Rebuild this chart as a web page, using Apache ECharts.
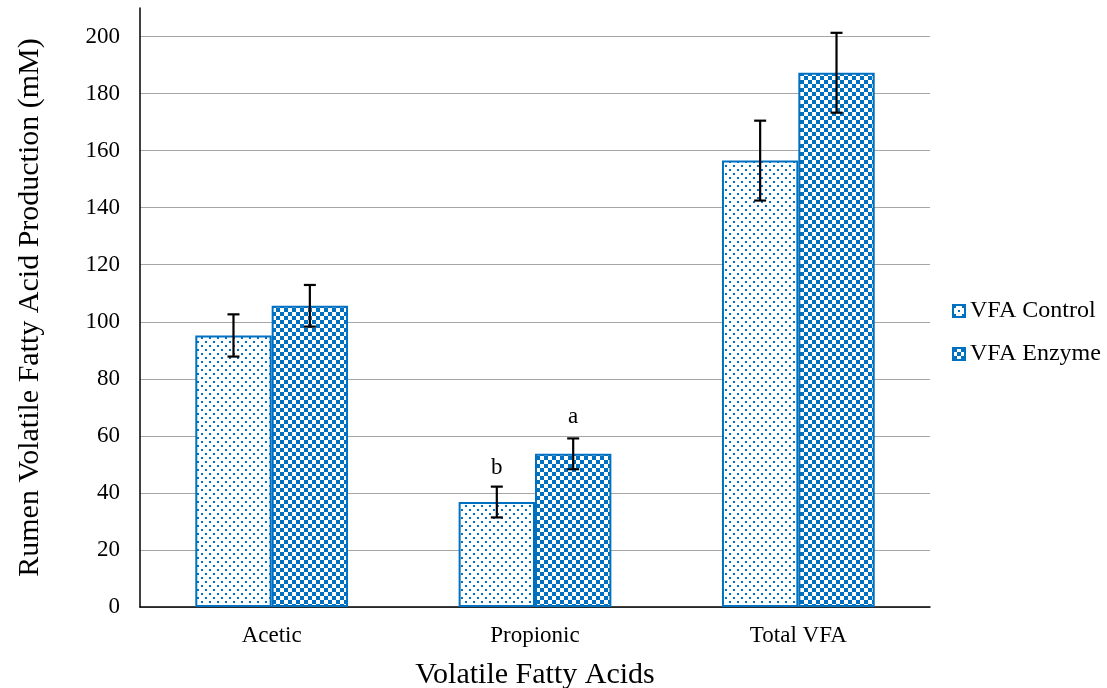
<!DOCTYPE html>
<html>
<head>
<meta charset="utf-8">
<script src="https://cdn.jsdelivr.net/npm/echarts@6/dist/echarts.min.js"></script>
<style>html,body{margin:0;padding:0;background:#fff;overflow:hidden}#c{width:1107px;height:688px}</style>
</head>
<body>
<div id="c"></div>
<script>
const categories = ['Acetic', 'Propionic', 'Total VFA'];
const controlValues = [95.2, 36.8, 156.5];
const enzymeValues = [105.6, 53.7, 187.3];
const controlErrors = [7.4, 5.4, 14.0];
const enzymeErrors = [7.3, 5.4, 14.0];
const controlLetters = ['', 'b', ''];
const enzymeLetters = ['', 'a', ''];
const yTicks = [0, 20, 40, 60, 80, 100, 120, 140, 160, 180, 200];

const BLUE = '#0070C0';
function dotPattern() {
  const c = document.createElement('canvas'); c.width = 8; c.height = 8;
  const g = c.getContext('2d');
  g.fillStyle = '#fff'; g.fillRect(0, 0, 8, 8);
  g.fillStyle = BLUE; g.fillRect(1, 1, 2, 2); g.fillRect(5, 5, 2, 2);
  return c;
}
function checkPattern() {
  const c = document.createElement('canvas'); c.width = 8; c.height = 8;
  const g = c.getContext('2d');
  g.fillStyle = '#fff'; g.fillRect(0, 0, 8, 8);
  g.fillStyle = BLUE; g.fillRect(0, 0, 4, 4); g.fillRect(4, 4, 4, 4);
  return c;
}
const BAR_RATIO = 0.29;
const FONT = 'Liberation Serif';

function errSeries(values, errors, letters, side) {
  return {
    type: 'custom',
    name: 'err' + side,
    z: 5,
    silent: true,
    data: values.map((v, i) => [i, v, errors[i]]),
    renderItem(params, api) {
      const i = api.value(0), v = api.value(1), e = api.value(2);
      const band = api.size([1, 0])[0];
      const off = side * band * BAR_RATIO / 2;
      const top = api.coord([i, v + e]);
      const bot = api.coord([i, v - e]);
      const x = top[0] + off;
      const cap = 6;
      const st = { stroke: '#000', lineWidth: 2.2 };
      const children = [
        { type: 'line', shape: { x1: x, y1: top[1], x2: x, y2: bot[1] }, style: st },
        { type: 'line', shape: { x1: x - cap, y1: top[1], x2: x + cap, y2: top[1] }, style: st },
        { type: 'line', shape: { x1: x - cap, y1: bot[1], x2: x + cap, y2: bot[1] }, style: st }
      ];
      const t = letters[params.dataIndex];
      if (t) {
        children.push({ type: 'text', style: { text: t, x: x, y: top[1] - (side < 0 ? 7 : 10), align: 'center', verticalAlign: 'bottom', fontFamily: FONT, fontSize: 23, fill: '#000' } });
      }
      return { type: 'group', children };
    }
  };
}

const chart = echarts.init(document.getElementById('c'));
chart.setOption({
  animation: false,
  textStyle: { fontFamily: FONT },
  grid: { left: 140, right: 177, top: 8, bottom: 81, containLabel: false, outerBoundsMode: 'none' },
  legend: {
    data: ['VFA Control', 'VFA Enzyme'],
    orient: 'vertical', left: 947, top: 294,
    itemWidth: 12, itemHeight: 12, itemGap: 19,
    icon: 'rect',
    textStyle: { fontFamily: FONT, fontSize: 24, color: '#000', padding: [0, 0, 0, 0] }
  },
  xAxis: {
    type: 'category', data: categories,
    name: 'Volatile Fatty Acids', nameLocation: 'middle', nameGap: 53,
    nameTextStyle: { fontFamily: FONT, fontSize: 30, color: '#000' },
    axisLine: { lineStyle: { color: '#000', width: 1.5 } },
    axisTick: { show: false },
    axisLabel: { fontFamily: FONT, fontSize: 23, color: '#000', margin: 17 }
  },
  yAxis: {
    type: 'value', min: 0, max: 210, interval: 20,
    name: 'Rumen Volatile Fatty Acid Production (mM)', nameLocation: 'middle', nameGap: 95,
    nameTextStyle: { fontFamily: FONT, fontSize: 30, color: '#000' },
    axisLine: { show: true, lineStyle: { color: '#000', width: 1.5 } },
    axisTick: { show: false },
    axisLabel: { fontFamily: FONT, fontSize: 23, color: '#000', margin: 20, showMaxLabel: false,
      formatter: v => yTicks.includes(v) ? String(v) : '' },
    splitLine: { show: true, showMaxLine: false, lineStyle: { color: '#A6A6A6', width: 1 } }
  },
  series: [
    { type: 'bar', name: 'VFA Control', data: controlValues, barWidth: (BAR_RATIO * 100) + '%', barGap: '0%', z: 2,
      itemStyle: { color: { image: dotPattern(), repeat: 'repeat' }, borderColor: BLUE, borderWidth: 2 } },
    { type: 'bar', name: 'VFA Enzyme', data: enzymeValues, barWidth: (BAR_RATIO * 100) + '%', barGap: '0%', z: 2,
      itemStyle: { color: { image: checkPattern(), repeat: 'repeat' }, borderColor: BLUE, borderWidth: 2 } },
    errSeries(controlValues, controlErrors, controlLetters, -1),
    errSeries(enzymeValues, enzymeErrors, enzymeLetters, 1)
  ]
});
</script>
</body>
</html>
